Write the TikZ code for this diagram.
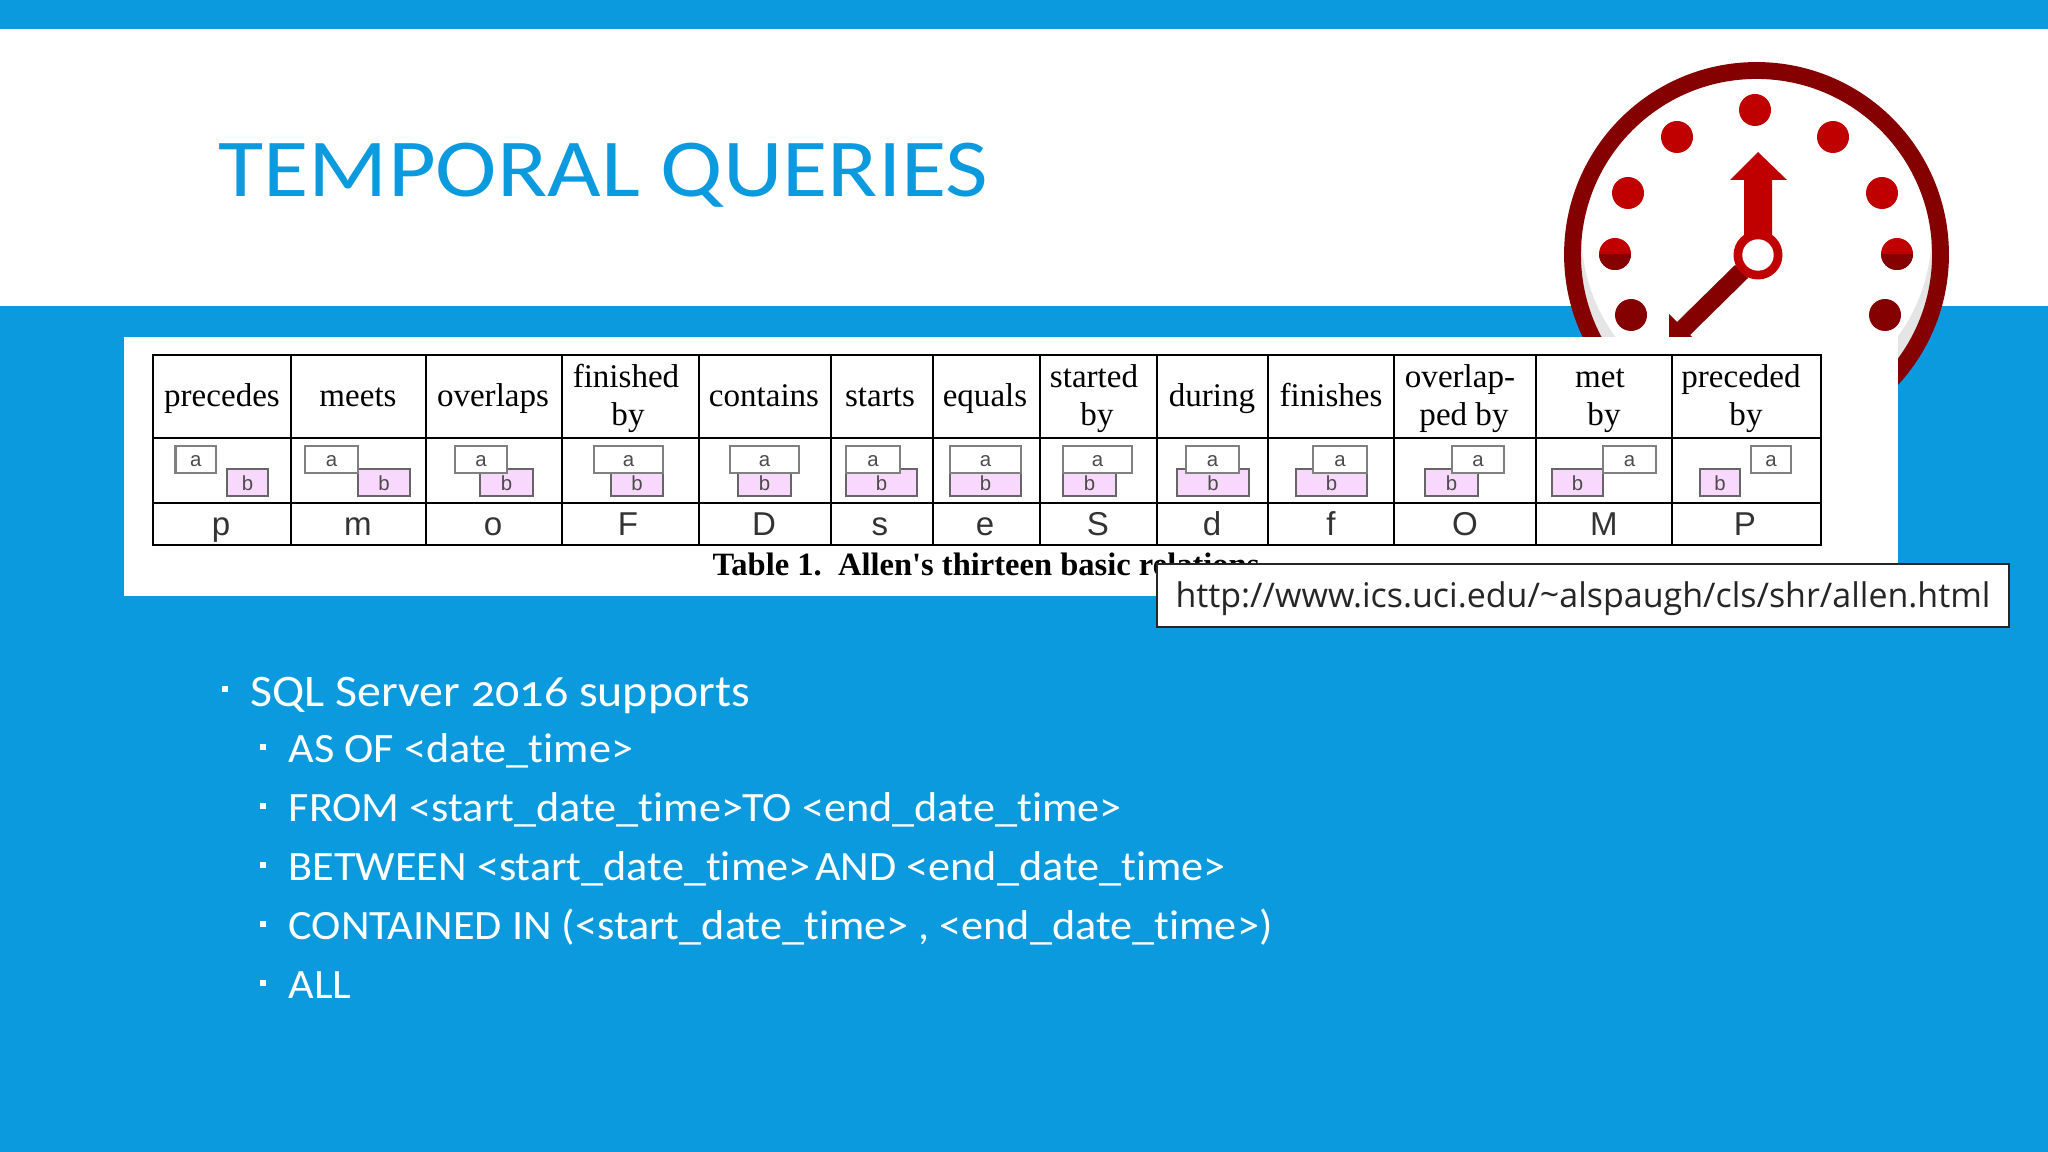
\documentclass[tikz,border=0pt]{standalone}
\usepackage{fontspec}
\setmainfont{Carlito}[Numbers=OldStyle, Ligatures=NoCommon, FakeStretch=1.06]
\newfontfamily\titlefont{Carlito}[FakeStretch=1.125]
\newfontfamily\tablefont{Liberation Serif}
\newfontfamily\lettersfont{Liberation Sans}
\newfontfamily\urlfont{Open Sans}
\definecolor{slideblue}{HTML}{0B9ADE}
\definecolor{clockdark}{HTML}{850000}
\definecolor{clockred}{HTML}{C00000}
\definecolor{barpink}{HTML}{F8D8FC}
\tikzset{
    bodytext/.style={anchor=base west, inner sep=0pt, text=white},
    headtext/.style={anchor=base, inner sep=0pt, font=\tablefont\fontsize{9.4}{11}\selectfont, text=black},
    lettertext/.style={anchor=base, inner sep=0pt, font=\lettersfont\fontsize{9.4}{11}\selectfont, text=black!80},
    barlabel/.style={inner sep=0pt, font=\lettersfont\fontsize{5.8}{6}\selectfont, text=black!70},
    tableline/.style={draw=black, line width=0.75pt},
    abar/.style={draw=black!50, line width=0.8pt, fill=white},
    bbar/.style={draw=black!60, line width=0.8pt, fill=barpink}
}
\begin{document}
\begin{tikzpicture}[x=0.01cm, y=-0.01cm]
        \fill[slideblue] (0,0) rectangle (2048,1152);
        \fill[white] (0,29) rectangle (2048,306);
        \node[anchor=base west, inner sep=0pt, text=slideblue, font=\titlefont\fontsize{23.4}{26}\selectfont] (title) at (218,197) {TEMPORAL QUERIES};

        \fill[white] (1756.5,254.5) circle (180);
        \fill[black!10] (1756.5,254.5) circle (176);
        \fill[white] (1756.5,233) circle (175);
        \draw[clockdark, line width=4.8pt] (1756.5,254.5) circle (184);
        \foreach \x/\y in {1755/110, 1677/137, 1833/137, 1628/193, 1882/193, 1615/254, 1897/254}
            \fill[clockred] (\x,\y) circle (16);
        \foreach \x/\y in {1615/254, 1897/254}
            \fill[clockdark] (\x-16,\y) arc (180:0:16) -- cycle;
        \foreach \x/\y in {1631/315, 1885/315}
            \fill[clockdark] (\x,\y) circle (16);
        \fill[clockdark] (1735,265) -- (1677,322) -- (1669,314) -- (1669,343) -- (1698,343) -- (1690,335) -- (1748,278) -- cycle;
        \fill[clockred] (1744,240) -- (1744,180) -- (1730,180) -- (1758,152) -- (1787,180) -- (1772,180) -- (1772,240) -- cycle;
        \fill[clockred] (1758,255) circle (24.5);
        \fill[white] (1758,255) circle (15.7);

        \fill[white] (124,337) rectangle (1898,596);

        \draw[tableline] (153,355) rectangle (1821,545);
        \draw[tableline] (153,438) -- (1821,438);
        \draw[tableline] (153,503) -- (1821,503);
        \foreach \x in {291, 426, 562, 699, 831, 933, 1040, 1157, 1268, 1394, 1536, 1672}
            \draw[tableline] (\x,355) -- (\x,545);

        \foreach \i/\x/\y/\word in {1/222/407/precedes, 2/358/407/meets, 3/493/407/overlaps, 4/626/388/finished, 5/628/426/by, 6/764/407/contains, 7/880/407/starts, 8/985/407/equals, 9/1094/388/started, 10/1097/426/by, 11/1212/407/during, 12/1331/407/finishes, 13/1460/388/overlap-, 14/1464/426/ped by, 15/1600/388/met, 16/1604/426/by, 17/1741/388/preceded, 18/1746/426/by}
            \node[headtext] (head\i) at (\x,\y) {\word};

        \foreach \i/\ax/\aX/\bx/\bX in {p/175.5/216/227/268, m/305/358/358/410, o/455/507/480/533, F/594/663/611/663, D/730/799/738/791, s/846/900/846/917, e/950/1021/950/1021, S/1063/1132/1063/1116, d/1186/1239/1177/1249, f/1313/1367/1296/1367, O/1452/1504/1425/1478, M/1603/1656/1552/1603, P/1751/1791/1700/1740} {
            \draw[bbar] (\bx,469) rectangle (\bX,496);
            \draw[abar] (\ax,446) rectangle (\aX,473);
            \node[barlabel] (b\i) at ({(\bx+\bX)/2},483) {b};
            \node[barlabel] (a\i) at ({(\ax+\aX)/2},461) {a};
        }

        \foreach \i/\x in {p/221, m/358, o/493, F/628, D/764, s/880, e/985, S/1098, d/1212, f/1331, O/1465, M/1604, P/1745}
            \node[lettertext] (letter\i) at (\x,535.5) {\i};

        \node[anchor=base west, inner sep=0pt, font=\tablefont\bfseries\fontsize{9.25}{11}\selectfont] (caption) at (712,575.5) {Table 1.\ \ Allen's thirteen basic relations};

        \node[draw=black!85, line width=0.6pt, fill=white, minimum width=8.52cm, minimum height=0.63cm, inner sep=0pt, text height=8.6pt, text depth=1.5pt, text=black!85, font=\urlfont\fontsize{9.66}{12}\selectfont] (url) at (1583,595.5) {http://www.ics.uci.edu/\raisebox{0.1ex}{\char`~}alspaugh/cls/shr/allen.html};

        \foreach \i/\y/\word in {1/762/AS OF <date\_time>, 2/821/FROM <start\_date\_time>\kern-3pt{} TO <end\_date\_time>, 3/880/BETWEEN <start\_date\_time>\kern-1.5pt{} AND <end\_date\_time>, 4/939/{CONTAINED IN (<start\_date\_time> , <end\_date\_time>)}, 5/998/ALL} {
            \fill[white] (260,\y-18) rectangle (266,\y-12);
            \node[bodytext, font=\fontsize{11.87}{13}\selectfont] (sub\i) at (288,\y) {\word};
        }
        \fill[white] (221.5,685.5) rectangle (228,692);
        \node[bodytext, font=\fontsize{12.84}{15}\selectfont] (main) at (250,706) {SQL Server 2016 supports};
    \end{tikzpicture}
\end{document}
